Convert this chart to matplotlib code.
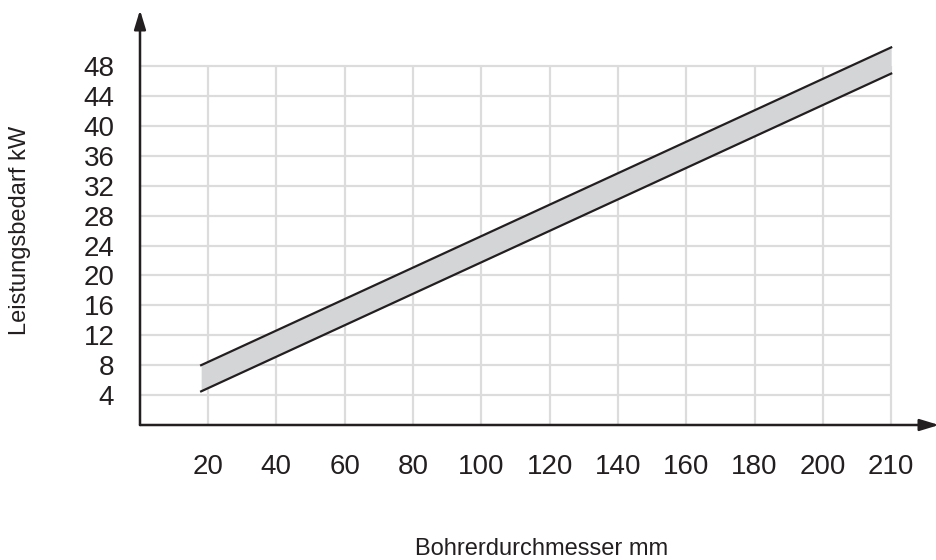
import matplotlib.pyplot as plt
import numpy as np

plt.rcParams["font.family"] = ["Liberation Sans", "DejaVu Sans"]

# x axis is drawn with evenly spaced categories (200 -> 210 has the same gap)
x_tick_labels = [20, 40, 60, 80, 100, 120, 140, 160, 180, 200, 210]
y_ticks = [4, 8, 12, 16, 20, 24, 28, 32, 36, 40, 44, 48]

# band of required power (kW) over drill diameter (mm)
band_diameter = [18, 210]
band_upper = [8.0, 50.5]
band_lower = [4.5, 47.0]

INK = "#231f20"
GRID = "#dcdcdc"
FILL = "#d4d5d7"


def diameter_to_pos(d):
    # positions 0..10 for the labelled diameters, linear extension left of 20
    d = np.asarray(d, dtype=float)
    ticks = np.array(x_tick_labels, dtype=float)
    pos = np.interp(d, ticks, np.arange(len(ticks)))
    return np.where(d < ticks[0], (d - ticks[0]) / (ticks[1] - ticks[0]), pos)


fig = plt.figure(figsize=(9.37, 5.6), dpi=100)
ax = fig.add_axes([140 / 937, 135 / 560, 799 / 937, 415 / 560])

x_pos = np.arange(len(x_tick_labels))
x_left, x_right = -0.995, 10.7
y_top = 55.5
ax.set_xlim(x_left, x_right)
ax.set_ylim(0, y_top)

# grid bounded to the labelled range
ax.hlines(y_ticks, x_left, x_pos[-1], color=GRID, lw=1.6, zorder=1)
ax.vlines(x_pos, 0, y_ticks[-1], color=GRID, lw=1.6, zorder=1)

bx = diameter_to_pos(band_diameter)
ax.fill_between(bx, band_lower, band_upper, color=FILL, lw=0, zorder=2)
ax.plot(bx, band_upper, color=INK, lw=1.6, zorder=3)
ax.plot(bx, band_lower, color=INK, lw=1.6, zorder=3)

for side in ["top", "right", "left", "bottom"]:
    ax.spines[side].set_visible(False)

# axes with arrow heads
arrow = dict(arrowstyle="-|>,head_length=1.15,head_width=0.35", color=INK, lw=1.8,
             shrinkA=0, shrinkB=0)
ax.annotate("", xy=(0, 1), xytext=(0, 0), xycoords="axes fraction", arrowprops=arrow,
            annotation_clip=False)
ax.annotate("", xy=(1, 0), xytext=(0, 0), xycoords="axes fraction", arrowprops=arrow,
            annotation_clip=False)

ax.set_xticks(x_pos)
ax.set_xticklabels([str(v) for v in x_tick_labels])
ax.set_yticks(y_ticks)
ax.set_yticklabels([str(v) for v in y_ticks])
ax.tick_params(axis="both", length=0, labelsize=20, colors=INK)
ax.tick_params(axis="y", pad=18.5)
ax.tick_params(axis="x", pad=21)

fig.text(20 / 937, 1 - 230 / 560, "Leistungsbedarf kW", rotation=90, ha="center",
         va="center", fontsize=17, color=INK)
fig.text(542 / 937, 1 - 549 / 560, "Bohrerdurchmesser mm", ha="center", va="center",
         fontsize=17, color=INK)

fig.savefig("out.png", dpi=100)
